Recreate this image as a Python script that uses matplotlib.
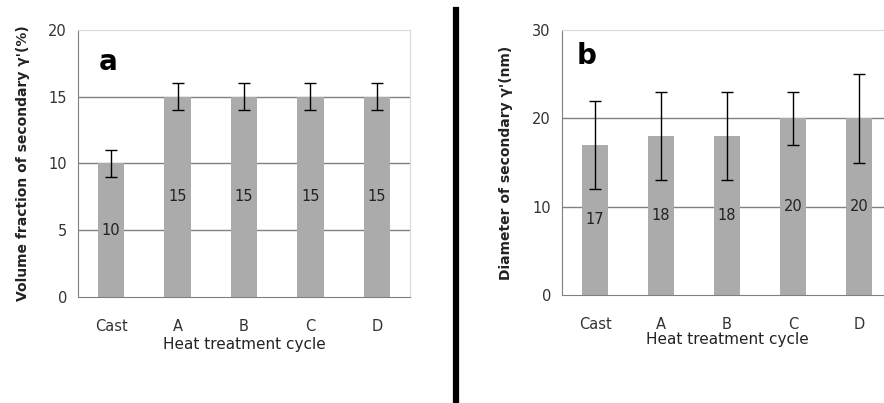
import matplotlib.pyplot as plt

cycles = ["Cast", "A", "B", "C", "D"]
vol_fraction = [10, 15, 15, 15, 15]
vol_err = [1, 1, 1, 1, 1]
diameter = [17, 18, 18, 20, 20]
diam_err = [5, 5, 5, 3, 5]

BAR = "#ababab"
GRID = "#808080"
LIGHT = "#d9d9d9"


def panel(ax, values, errors, ymax, step, ylabel, letter, lpos):
    x = range(len(cycles))
    ax.bar(x, values, width=0.4, color=BAR, zorder=2)
    ax.errorbar(x, values, yerr=errors, fmt="none", ecolor="black",
                elinewidth=1, capsize=4, capthick=1, zorder=3)
    for i, v in enumerate(values):
        ax.text(i, v / 2, str(v), ha="center", va="center", fontsize=10.5,
                color="#222222", zorder=4)
    ax.set_xlim(-0.5, len(cycles) - 0.5)
    ax.set_ylim(0, ymax)
    ax.set_yticks(range(0, ymax + 1, step))
    ax.set_xticks(list(x))
    ax.set_xticklabels(cycles)
    ax.tick_params(length=0, labelsize=10.5, colors="#333333", pad=8)
    ax.tick_params(axis="x", pad=16)
    for t in ax.get_yticks()[1:-1]:
        ax.axhline(t, color=GRID, lw=1, zorder=1)
    ax.spines["left"].set_color(GRID)
    ax.spines["bottom"].set_color(GRID)
    ax.spines["top"].set_color(LIGHT)
    ax.spines["right"].set_color(LIGHT)
    ax.set_xlabel("Heat treatment cycle", fontsize=11, color="#222222")
    ax.set_ylabel(ylabel, fontsize=10, fontweight="bold", color="#222222")
    ax.text(lpos[0], lpos[1], letter, transform=ax.transAxes, fontsize=20,
            fontweight="bold", ha="center", va="center")


fig = plt.figure(figsize=(8.84, 4.03), dpi=100)
ax1 = fig.add_axes([78 / 884, 1 - 297 / 403, 332 / 884, 267 / 403])
ax2 = fig.add_axes([562 / 884, 1 - 295 / 403, 330 / 884, 265 / 403])

panel(ax1, vol_fraction, vol_err, 20, 5,
      "Volume fraction of secondary γ'(%)", "a", (0.09, 0.88))
panel(ax2, diameter, diam_err, 30, 10,
      "Diameter of secondary γ'(nm)", "b", (0.075, 0.9))
ax1.xaxis.labelpad = 2
ax2.xaxis.labelpad = 0
ax1.yaxis.labelpad = 13
ax2.yaxis.labelpad = 14

fig.add_artist(plt.Line2D([456 / 884, 456 / 884], [0, 1 - 10 / 403],
                          color="black", lw=4.5))

fig.savefig("out.png", dpi=100)
